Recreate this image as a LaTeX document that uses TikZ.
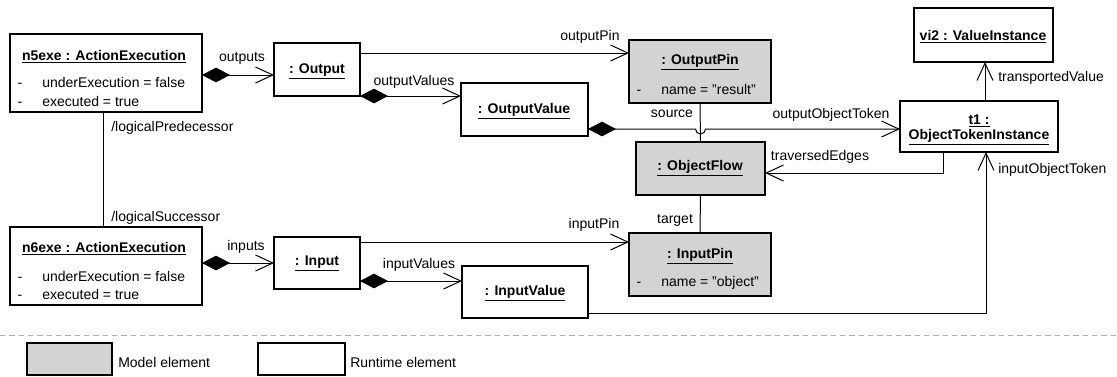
\documentclass[tikz,border=0pt]{standalone}
\usepackage{fontspec}
\setmainfont{Liberation Sans}
\usetikzlibrary{arrows.meta,fit,calc}
\definecolor{modelgray}{RGB}{211,211,211}
\definecolor{dashgray}{RGB}{175,175,175}
\newcommand{\uln}[1]{\underline{#1}}
\begin{document}
\begin{tikzpicture}[x=0.75pt,y=-0.75pt,
  every node/.style={font=\fontsize{10.5}{12}\selectfont, inner sep=0pt},
  rbox/.style={draw, line width=0.9pt, fill=white, inner sep=0pt, outer sep=0pt},
  mbox/.style={rbox, fill=modelgray},
  ttl/.style={font=\fontsize{10.5}{12}\selectfont\bfseries},
  attr/.style={anchor=base west},
  dsh/.style={anchor=base},
  assoc/.style={line width=0.75pt, -{Straight Barb[length=13pt,width=12pt]}},
  compo/.style={line width=0.75pt, {Diamond[length=21pt,width=11pt]}-{Straight Barb[length=13pt,width=12pt]}},
  link/.style={line width=0.75pt},
]
\useasboundingbox (0,0) rectangle (1117,376);

% boxes
\node[rbox, fit={(10,34) (202,112)}] (n5) {};
\node[rbox, fit={(274,43) (360,96)}] (Out) {};
\node[rbox, fit={(461,83) (588,136)}] (OV) {};
\node[mbox, fit={(629,40) (771,103)}] (OP) {};
\node[mbox, fit={(636,142) (765,195)}] (OF) {};
\node[mbox, fit={(629,233) (771,296)}] (IP) {};
\node[rbox, fit={(900,101) (1058,152)}] (t1) {};
\node[rbox, fit={(914,8) (1053,62)}] (vi2) {};
\node[rbox, fit={(10,227) (202,305)}] (n6) {};
\node[rbox, fit={(274,237) (360,289)}] (In) {};
\node[rbox, fit={(462,266) (588,318)}] (IV) {};
\node[mbox, fit={(27,343) (112,375)}] (legM) {};
\node[rbox, fit={(258,343) (345,375)}] (legR) {};

% box texts
\node[ttl] (n5t) at (104,57) {\uln{n5exe : ActionExecution}};
\node[dsh] (n5d1) at (20,87) {-};
\node[attr] (n5a1) at (42,87) {underExecution = false};
\node[dsh] (n5d2) at (20,106) {-};
\node[attr] (n5a2) at (42,106) {executed = true};

\node[ttl] (n6t) at (104,249) {\uln{n6exe : ActionExecution}};
\node[dsh] (n6d1) at (20,281) {-};
\node[attr] (n6a1) at (42,281) {underExecution = false};
\node[dsh] (n6d2) at (20,299) {-};
\node[attr] (n6a2) at (42,299) {executed = true};

\node[ttl] (Outt) at (317,71) {\uln{: Output}};
\node[ttl] (Int) at (317,263) {\uln{: Input}};
\node[ttl] (OVt) at (524,111) {\uln{: OutputValue}};
\node[ttl] (IVt) at (525,293) {\uln{: InputValue}};

\node[ttl] (OPt) at (700,62) {\uln{: OutputPin}};
\node[dsh] (OPd) at (639,94) {-};
\node[attr] (OPa) at (661,94) {name = "result"};
\node[ttl] (OFt) at (700,168) {\uln{: ObjectFlow}};
\node[ttl] (IPt) at (700,256) {\uln{: InputPin}};
\node[dsh] (IPd) at (639,286) {-};
\node[attr] (IPa) at (661,286) {name = "object"};

\node[ttl] (t1a) at (979,121) {\uln{t1 :}};
\node[ttl] (t1b) at (979,137) {\uln{ObjectTokenInstance}};
\node[ttl] (vi2t) at (983,37) {\uln{vi2 : ValueInstance}};

% connectors
\draw[compo] ($(n5.east)+(0,2)$) -- ($(n5.east -| Out.west)+(0,2)$);
\draw[assoc] ($(Out.east)+(0,-16.5)$) -- ($(Out.east -| OP.west)+(0,-16.5)$);
\draw[compo] (Out.south east) -- (Out.south east -| OV.west);
\draw[compo] ($(OV.east)+(0,19.5)$) -- ($(OV.east -| OF.north)+(-5,19.5)$)
   arc[start angle=180,end angle=360,radius=3.75pt]
   -- ($(OV.east -| t1.west)+(0,19.5)$);
\draw[link] (OP.south) -- (OF.north);
\draw[link] (OF.south) -- (IP.north);
\draw[assoc] ($(t1.south west)+(43,0)$) |- ($(OF.east)+(0,4.5)$);
\path ($(t1.north west)+(85,0)$) coordinate (tvs);
\draw[assoc] (tvs) -- (tvs |- vi2.south);
\draw[assoc] ($(IV.east)+(0,21)$) -| ($(t1.south west)+(86,0)$);
\draw[link] ($(n5.south)+(-3,0)$) -- ($(n6.north)+(-3,0)$);
\draw[compo] ($(n6.east)+(0,-3)$) -- ($(n6.east -| In.west)+(0,-3)$);
\draw[assoc] ($(In.east)+(0,-21)$) -- ($(In.east -| IP.west)+(0,-21)$);
\draw[compo] ($(In.east)+(0,18)$) -- ($(In.east -| IV.west)+(0,18)$);

% connector labels
\node (l1) at (242,58) {outputs};
\node (l2) at (590,37) {outputPin};
\node (l3) at (414,82) {outputValues};
\node (l4) at (672,114) {source};
\node (l5) at (831,115) {outputObjectToken};
\node (l6) at (820,157) {traversedEdges};
\node[anchor=west] (l7) at (998,78) {transportedValue};
\node[anchor=west] (l8) at (998,170) {inputObjectToken};
\node (l9) at (675,220) {target};
\node (l10) at (594,225) {inputPin};
\node (l11) at (419,265) {inputValues};
\node (l12) at (246,247) {inputs};
\node[anchor=west] (l13) at (111,128) {/logicalPredecessor};
\node[anchor=west] (l14) at (111,218) {/logicalSuccessor};

% separator and legend
\draw[dashgray, line width=0.75pt, dash pattern=on 4pt off 3pt] (0,335) -- (1117,335);
\node[anchor=west] (legMt) at (118,362) {Model element};
\node[anchor=west] (legRt) at (350,362) {Runtime element};
\end{tikzpicture}
\end{document}
